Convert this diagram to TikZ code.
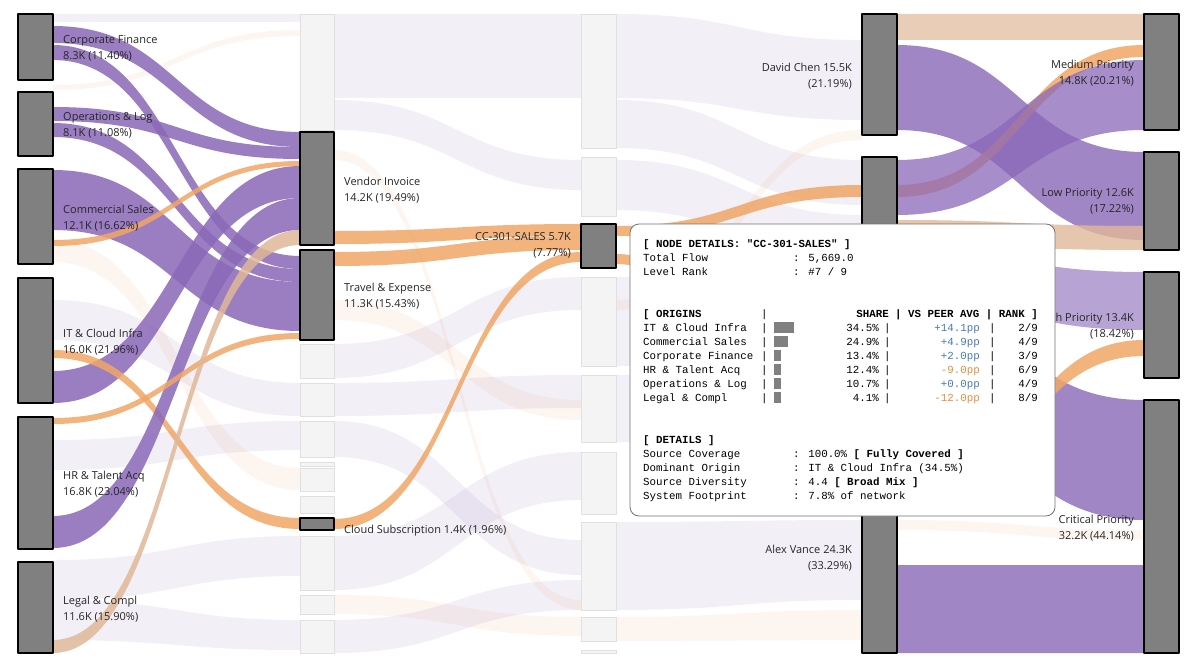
\documentclass[tikz,border=0pt]{standalone}
\usepackage{fontspec}
\setmainfont{Open Sans}
\newfontfamily\monofont{Liberation Mono}
\definecolor{purp}{RGB}{138,104,184}
\definecolor{oran}{RGB}{240,166,102}
\definecolor{tann}{RGB}{224,184,152}
\definecolor{gbox}{RGB}{128,128,128}
\definecolor{lbox}{RGB}{244,244,244}
\definecolor{tipblue}{RGB}{70,120,190}
\definecolor{tiporan}{RGB}{230,140,60}
% one sankey band: x1, top1, bot1, x2, top2, bot2, style
\newcommand{\flow}[7]{\fill[#7] (#1,#2) .. controls ({(#1+#4)/2},#2) and ({(#1+#4)/2},#5) .. (#4,#5) -- (#4,#6) .. controls ({(#1+#4)/2},#6) and ({(#1+#4)/2},#3) .. (#1,#3) -- cycle;}
\tikzset{
  node box/.style={draw=black,line width=1.6pt,fill=gbox},
  ghost box/.style={draw=black!12,line width=0.8pt,fill=lbox},
  hot/.style={fill=purp,fill opacity=0.85},
  hotor/.style={fill=oran,fill opacity=0.85},
  pale/.style={fill=purp,fill opacity=0.10},
  paleor/.style={fill=oran,fill opacity=0.10},
  lbl/.style={font=\fontsize{11}{16}\selectfont,text=black!85,inner sep=0pt},
  tt/.style={font=\monofont\fontsize{10.8}{12}\selectfont,inner sep=0pt,anchor=base west},
}
\begin{document}
\begin{tikzpicture}[x=1pt,y=-1pt,line join=round]
\useasboundingbox (0,0) rectangle (1200,669);
\fill[white] (0,0) rectangle (1200,669);
% faded background flows
\flow{53}{14}{22}{300}{14}{22}{pale}
\flow{334}{14}{98}{581}{14}{98}{pale}
\flow{334}{100}{130}{581}{160}{190}{pale}
\flow{53}{600}{640}{300}{620}{650}{pale}
\flow{53}{560}{600}{300}{536}{576}{pale}
\flow{53}{300}{340}{300}{383}{416}{pale}
\flow{53}{440}{470}{300}{421}{450}{pale}
\flow{53}{240}{262}{300}{468}{490}{paleor}
\flow{53}{85}{90}{300}{30}{36}{paleor}
\flow{334}{344}{378}{581}{277}{310}{pale}
\flow{334}{383}{416}{581}{375}{408}{pale}
\flow{334}{421}{457}{581}{540}{575}{pale}
\flow{334}{536}{590}{581}{452}{500}{pale}
\flow{334}{595}{614}{581}{617}{636}{paleor}
\flow{334}{620}{653}{581}{580}{610}{pale}
\flow{334}{150}{160}{581}{600}{610}{paleor}
\flow{334}{300}{320}{581}{400}{420}{paleor}
\flow{616}{14}{98}{862}{40}{120}{pale}
\flow{616}{100}{148}{862}{160}{205}{pale}
\flow{616}{160}{210}{862}{215}{260}{pale}
\flow{616}{277}{366}{862}{280}{360}{pale}
\flow{616}{375}{442}{862}{440}{500}{pale}
\flow{616}{522}{610}{862}{520}{600}{pale}
\flow{616}{617}{641}{862}{610}{640}{paleor}
\flow{616}{300}{310}{862}{130}{140}{paleor}
% highlighted flows, level 1 to 2
\flow{53}{26}{43}{300}{132}{147}{hot}
\flow{53}{45}{60}{300}{256}{269}{hot}
\flow{53}{107}{121}{300}{147}{159}{hot}
\flow{53}{123}{137}{300}{269}{282}{hot}
\flow{53}{170}{230}{300}{282}{331}{hot}
\flow{53}{240}{246}{300}{161}{166}{hotor}
\flow{53}{371}{403}{300}{166}{198}{hot}
\flow{53}{350}{358}{300}{518}{529}{hotor}
\flow{53}{516}{548}{300}{198}{230}{hot}
\flow{53}{418}{424}{300}{333}{339}{hotor}
\flow{53}{640}{653}{300}{230}{245}{fill=tann,fill opacity=0.85}
% level 2 to 3
\flow{334}{231}{244}{581}{224}{236}{hotor}
\flow{334}{252}{266}{581}{236}{250}{hotor}
\flow{334}{519}{529}{581}{252}{262}{hotor}
% level 3 to 4
\flow{616}{226}{236}{862}{185}{197}{hotor}
\flow{616}{254}{264}{862}{500}{512}{hotor}
% level 4 to 5
\flow{897}{14}{40}{1144}{14}{40}{fill=tann,fill opacity=0.7}
\flow{897}{45}{130}{1144}{152}{240}{fill=purp,fill opacity=0.8}
\flow{897}{185}{197}{1144}{45}{57}{hotor}
\flow{897}{160}{215}{1144}{60}{130}{fill=purp,fill opacity=0.75}
\flow{897}{220}{245}{1144}{226}{250}{fill=tann,fill opacity=0.8}
\flow{897}{250}{300}{1144}{272}{330}{fill=purp,fill opacity=0.6}
\flow{897}{305}{420}{1144}{400}{520}{fill=purp,fill opacity=0.8}
\flow{897}{500}{512}{1144}{340}{356}{hotor}
\flow{897}{520}{530}{1144}{530}{540}{paleor}
\flow{897}{565}{653}{1144}{565}{653}{fill=purp,fill opacity=0.8}
% ghost nodes
\foreach \ya/\yb in {14/130,344/378,383/416,421/457,462/466,468/491,496/513,536/590,595/614,620/653}
  \draw[ghost box] (300,\ya) rectangle (334,\yb);
\foreach \ya/\yb in {14/148,157/216,277/366,375/442,452/514,522/610,617/641,650/653}
  \draw[ghost box] (581,\ya) rectangle (616,\yb);
% active nodes
\node[node box,minimum width=35pt,minimum height=66pt,inner sep=0pt] (corp) at (35.5,47) {};
\node[node box,minimum width=35pt,minimum height=64pt,inner sep=0pt] (ops) at (35.5,124) {};
\node[node box,minimum width=35pt,minimum height=95pt,inner sep=0pt] (comm) at (35.5,216.5) {};
\node[node box,minimum width=35pt,minimum height=125pt,inner sep=0pt] (itc) at (35.5,340.5) {};
\node[node box,minimum width=35pt,minimum height=132pt,inner sep=0pt] (hr) at (35.5,483) {};
\node[node box,minimum width=35pt,minimum height=91pt,inner sep=0pt] (legal) at (35.5,607.5) {};
\node[node box,minimum width=34pt,minimum height=113pt,inner sep=0pt] (vend) at (317,188.5) {};
\node[node box,minimum width=34pt,minimum height=90pt,inner sep=0pt] (trav) at (317,295) {};
\node[node box,minimum width=34pt,minimum height=12pt,inner sep=0pt] (cloud) at (317,524) {};
\node[node box,minimum width=35pt,minimum height=44pt,inner sep=0pt] (cc) at (598.5,246) {};
\node[node box,minimum width=35pt,minimum height=121pt,inner sep=0pt] (david) at (879.5,74.5) {};
\node[node box,minimum width=35pt,minimum height=273pt,inner sep=0pt] (mid) at (879.5,293.5) {};
\node[node box,minimum width=35pt,minimum height=213pt,inner sep=0pt] (alex) at (879.5,546.5) {};
\node[node box,minimum width=35pt,minimum height=116pt,inner sep=0pt] (med) at (1161.5,72) {};
\node[node box,minimum width=35pt,minimum height=98pt,inner sep=0pt] (low) at (1161.5,201) {};
\node[node box,minimum width=35pt,minimum height=106pt,inner sep=0pt] (high) at (1161.5,325) {};
\node[node box,minimum width=35pt,minimum height=253pt,inner sep=0pt] (crit) at (1161.5,526.5) {};
% labels
\node[lbl,anchor=west,align=left] at (63,48) {Corporate Finance\\8.3K (11.40\%)};
\node[lbl,anchor=west,align=left] at (63,125) {Operations \& Log\\8.1K (11.08\%)};
\node[lbl,anchor=west,align=left] at (63,218) {Commercial Sales\\12.1K (16.62\%)};
\node[lbl,anchor=west,align=left] at (63,342) {IT \& Cloud Infra\\16.0K (21.96\%)};
\node[lbl,anchor=west,align=left] at (63,484) {HR \& Talent Acq\\16.8K (23.04\%)};
\node[lbl,anchor=west,align=left] at (63,609) {Legal \& Compl\\11.6K (15.90\%)};
\node[lbl,anchor=west,align=left] at (344,190) {Vendor Invoice\\14.2K (19.49\%)};
\node[lbl,anchor=west,align=left] at (344,296) {Travel \& Expense\\11.3K (15.43\%)};
\node[lbl,anchor=west] at (344,531) {Cloud Subscription 1.4K (1.96\%)};
\node[lbl,anchor=east,align=right] at (571,245) {CC-301-SALES 5.7K\\(7.77\%)};
\node[lbl,anchor=east,align=right] at (852,76) {David Chen 15.5K\\(21.19\%)};
\node[lbl,anchor=east,align=right] at (852,558) {Alex Vance 24.3K\\(33.29\%)};
\node[lbl,anchor=east,align=right] at (1134,73) {Medium Priority\\14.8K (20.21\%)};
\node[lbl,anchor=east,align=right] at (1134,201) {Low Priority 12.6K\\(17.22\%)};
\node[lbl,anchor=east,align=right] at (1134,326) {High Priority 13.4K\\(18.42\%)};
\node[lbl,anchor=east,align=right] at (1134,528) {Critical Priority\\32.2K (44.14\%)};
% tooltip
\draw[draw=black!55,fill=white,rounded corners=9pt,line width=0.8pt] (630,224) rectangle (1055,516);
\node[tt] at (643,247) {\bfseries [ NODE DETAILS: "CC-301-SALES" ]};
\node[tt] at (643,261) {Total Flow};  \node[tt] at (793,261) {: 5,669.0};
\node[tt] at (643,275) {Level Rank};  \node[tt] at (793,275) {: \#7 / 9};
\node[tt] at (643,317) {\bfseries [ ORIGINS};
\node[tt] at (761,317) {|};
\node[tt,anchor=base east] at (1038,317) {\bfseries SHARE | VS PEER AVG | RANK ]};
\foreach \nm/\w/\sh/\pp/\pc/\rk [count=\i] in {
  IT \& Cloud Infra/20/34.5\%/+14.1pp/tipblue/2,
  Commercial Sales/14/24.9\%/+4.9pp/tipblue/4,
  Corporate Finance/7/13.4\%/+2.0pp/tipblue/3,
  HR \& Talent Acq/7/12.4\%/-9.0pp/tiporan/6,
  Operations \& Log/7/10.7\%/+0.0pp/tipblue/4,
  Legal \& Compl/7/4.1\%/-12.0pp/tiporan/8}{
  \pgfmathsetmacro{\yy}{317+14*\i}
  \node[tt] at (643,\yy) {\nm};
  \node[tt] at (761,\yy) {|};
  \fill[gbox] (774,\yy-9) rectangle (774+\w,\yy+2);
  \node[tt,anchor=base east] at (879,\yy) {\sh};
  \node[tt] at (884,\yy) {|};
  \node[tt,anchor=base east,text=\pc] at (980,\yy) {\pp};
  \node[tt] at (989,\yy) {|};
  \node[tt,anchor=base east] at (1038,\yy) {\rk/9};
}
\node[tt] at (643,443) {\bfseries [ DETAILS ]};
\node[tt] at (643,457) {Source Coverage};   \node[tt] at (793,457) {: 100.0\% {\bfseries[ Fully Covered ]}};
\node[tt] at (643,471) {Dominant Origin};   \node[tt] at (793,471) {: IT \& Cloud Infra (34.5\%)};
\node[tt] at (643,485) {Source Diversity};  \node[tt] at (793,485) {: 4.4 {\bfseries[ Broad Mix ]}};
\node[tt] at (643,499) {System Footprint};  \node[tt] at (793,499) {: 7.8\% of network};
\end{tikzpicture}
\end{document}
